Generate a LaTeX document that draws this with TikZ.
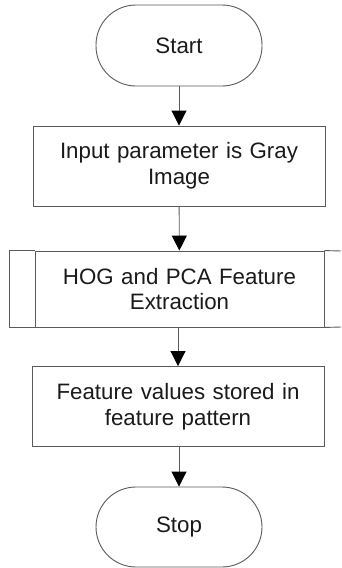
\documentclass[tikz,border=0pt]{standalone}
\usepackage{fontspec}
\setmainfont{Liberation Sans}
\usetikzlibrary{arrows.meta}
\definecolor{ln}{HTML}{5A5A5A}
\definecolor{tx}{HTML}{1A1A1A}
\tikzset{
  x=1pt,y=1pt,
  term/.style={draw=ln,line width=0.9pt,rounded corners=40pt,minimum width=166pt,minimum height=81pt,inner sep=0pt,font=\fontsize{22.3}{25.7}\selectfont,text=tx,align=center},
  proc/.style={draw=ln,line width=0.9pt,minimum width=292pt,minimum height=80pt,inner sep=0pt,font=\fontsize{22.3}{25.7}\selectfont,text=tx,align=center,text width=285pt},
  arr/.style={draw=ln,line width=0.9pt,-{Triangle[length=15pt,width=15pt,fill=black,color=black]}}
}
\begin{document}
\begin{tikzpicture}
\useasboundingbox (0,0) rectangle (341,-568);
\node[term] (start) at (179,-45.5) {Start};
\node[proc] (inp) at (179,-166) {Input parameter is Gray\\Image};
\node[proc,minimum width=289pt,minimum height=76pt] (hog) at (179.5,-289) {HOG and PCA Feature\\Extraction};
\draw[draw=ln,line width=0.9pt] (hog.north west) -- ++(-25,0) |- (hog.south west);
\draw[draw=ln,line width=0.9pt] (hog.north east) -- (341,-251) (hog.south east) -- (341,-327);
\node[proc] (feat) at (178,-406.5) {Feature values stored in\\feature pattern};
\node[term,minimum height=80pt] (stop) at (179,-527) {Stop};
\draw[arr] (start) -- (inp);
\draw[arr] (inp) -- (hog);
\draw[arr] (hog.south -| feat) -- (feat);
\draw[arr] (feat.south -| stop) -- (stop);
\end{tikzpicture}
\end{document}
